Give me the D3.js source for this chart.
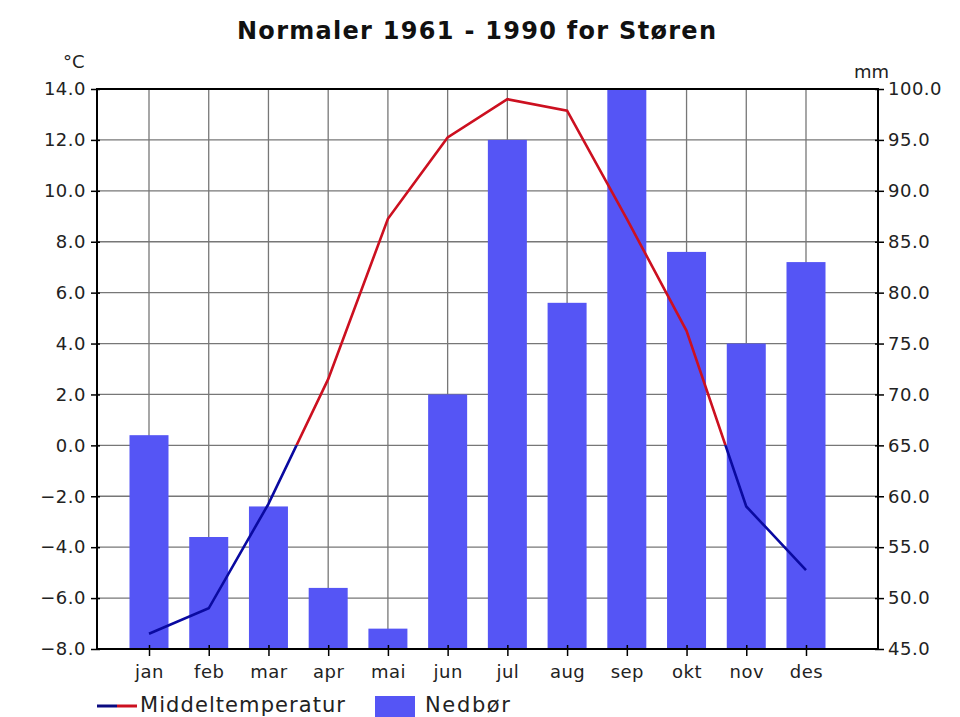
<!DOCTYPE html>
<html lang="no">
<head>
<meta charset="utf-8">
<title>Normaler 1961 - 1990 for Støren</title>
<script src="https://d3js.org/d3.v7.min.js"></script>
<style>
  body { margin: 0; background: #fff; font-family: "DejaVu Sans", sans-serif; }
  .tick text { fill: #222; }
</style>
</head>
<body>
<div id="chart"></div>
<script>
// data
var months = ["jan", "feb", "mar", "apr", "mai", "jun", "jul", "aug", "sep", "okt", "nov", "des"];
var temperature = [-7.4, -6.4, -2.3, 2.6, 8.9, 12.1, 13.6, 13.15, 8.9, 4.5, -2.4, -4.9];
var precipitation = [66, 56, 59, 51, 47, 70, 95, 79, 100, 84, 75, 83];
var tempTicks = [-8, -6, -4, -2, 0, 2, 4, 6, 8, 10, 12, 14];
var mmTicks = [45, 50, 55, 60, 65, 70, 75, 80, 85, 90, 95, 100];

var W = 960, H = 717;
var margin = {top: 89, right: 82, bottom: 68, left: 97},
    width = W - margin.left - margin.right,
    height = H - margin.top - margin.bottom;

var canvas = d3.select("#chart").append("svg")
    .attr("width", W).attr("height", H);
var svg = canvas.append("g")
    .attr("transform", "translate(" + margin.left + "," + margin.top + ")");

var x = d3.scalePoint().domain(months).range([52, 709]);
var yT = d3.scaleLinear().domain([-8, 14]).range([height, 0]);
var yP = d3.scaleLinear().domain([45, 100]).range([height, 0]);

// grid
svg.append("g").selectAll("line.h").data(tempTicks).enter().append("line")
    .attr("x1", 0).attr("x2", width)
    .attr("y1", function(d){ return yT(d); }).attr("y2", function(d){ return yT(d); })
    .attr("stroke", "#777").attr("stroke-width", 1.3);
svg.append("g").selectAll("line.v").data(months).enter().append("line")
    .attr("x1", function(d){ return x(d); }).attr("x2", function(d){ return x(d); })
    .attr("y1", 0).attr("y2", height)
    .attr("stroke", "#777").attr("stroke-width", 1.3);

// bars
var barW = 39;
svg.append("g").selectAll("rect").data(precipitation).enter().append("rect")
    .attr("x", function(d, i){ return x(months[i]) - barW / 2; })
    .attr("y", function(d){ return yP(d); })
    .attr("width", barW)
    .attr("height", function(d){ return height - yP(d); })
    .attr("fill", "#5555f5");

// temperature line, red above 0 and dark blue below
var defs = canvas.append("defs");
defs.append("clipPath").attr("id", "above").append("rect")
    .attr("x", 0).attr("y", 0).attr("width", width).attr("height", yT(0));
defs.append("clipPath").attr("id", "below").append("rect")
    .attr("x", 0).attr("y", yT(0)).attr("width", width).attr("height", height - yT(0));

var line = d3.line()
    .x(function(d, i){ return x(months[i]); })
    .y(function(d){ return yT(d); });

svg.append("path").datum(temperature)
    .attr("d", line).attr("fill", "none")
    .attr("stroke", "#cc1020").attr("stroke-width", 2.6)
    .attr("clip-path", "url(#above)");
svg.append("path").datum(temperature)
    .attr("d", line).attr("fill", "none")
    .attr("stroke", "#0a0aa0").attr("stroke-width", 2.6)
    .attr("clip-path", "url(#below)");

// axes
var left = svg.append("g")
    .call(d3.axisLeft(yT).tickValues(tempTicks).tickFormat(d3.format(".1f")).tickSize(6).tickPadding(5));
var right = svg.append("g").attr("transform", "translate(" + width + ",0)")
    .call(d3.axisRight(yP).tickValues(mmTicks).tickFormat(d3.format(".1f")).tickSize(6).tickPadding(4));
var bottom = svg.append("g").attr("transform", "translate(0," + height + ")")
    .call(d3.axisBottom(x).tickSize(7).tickPadding(9));

[left, right, bottom].forEach(function(g){
  g.select(".domain").remove();
  g.selectAll(".tick line").attr("stroke", "#000").attr("stroke-width", 1.5);
  g.selectAll(".tick text").style("font-size", "18px").style("font-family", "DejaVu Sans, sans-serif")
    .style("letter-spacing", "0.5px");
});
bottom.selectAll(".tick line").attr("y1", -4);
left.selectAll(".tick line").attr("x2", -6).attr("x1", 3);
right.selectAll(".tick line").attr("x1", -3);

// plot frame
svg.append("rect").attr("x", 0).attr("y", 0).attr("width", width).attr("height", height)
    .attr("fill", "none").attr("stroke", "#000").attr("stroke-width", 2);

// title and units
canvas.append("text").attr("x", 237).attr("y", 39)
    .style("font-size", "24px").style("font-weight", "bold")
    .attr("textLength", 479).attr("lengthAdjust", "spacing").attr("fill", "#111")
    .text("Normaler 1961 - 1990 for Støren");
canvas.append("text").attr("x", 63).attr("y", 68)
    .style("font-size", "18px").attr("fill", "#222").text("°C");
canvas.append("text").attr("x", 854).attr("y", 78)
    .style("font-size", "18px").attr("fill", "#222").text("mm");

// legend
var lg = canvas.append("g");
lg.append("line").attr("x1", 97).attr("x2", 117).attr("y1", 706).attr("y2", 706)
    .attr("stroke", "#0a0a80").attr("stroke-width", 3);
lg.append("line").attr("x1", 117).attr("x2", 137).attr("y1", 706).attr("y2", 706)
    .attr("stroke", "#cc1020").attr("stroke-width", 3);
lg.append("text").attr("x", 140).attr("y", 712)
    .style("font-size", "21px").attr("textLength", 205).attr("lengthAdjust", "spacing")
    .attr("fill", "#222")
    .text("Middeltemperatur");
lg.append("rect").attr("x", 375).attr("y", 696).attr("width", 40).attr("height", 21)
    .attr("fill", "#5555f5");
lg.append("text").attr("x", 425).attr("y", 712)
    .style("font-size", "21px").attr("textLength", 85).attr("lengthAdjust", "spacing")
    .attr("fill", "#222")
    .text("Nedbør");
</script>
</body>
</html>
